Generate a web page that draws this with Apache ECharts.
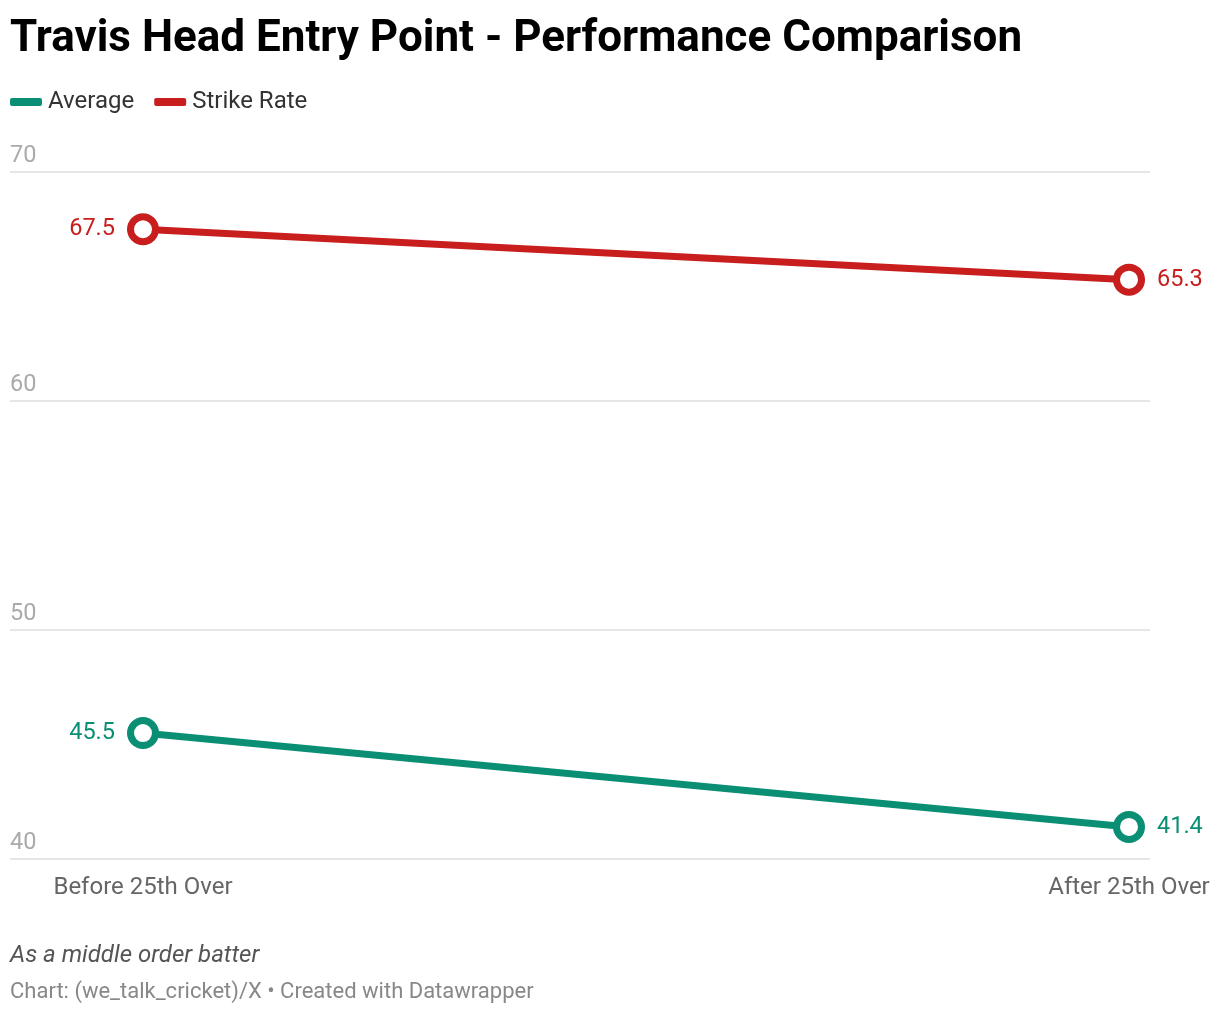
<!DOCTYPE html>
<html><head><meta charset="utf-8">
<script src="https://cdn.jsdelivr.net/npm/echarts@6/dist/echarts.min.js"></script>
<style>html,body{margin:0;padding:0;background:#fff}#c{width:1220px;height:1014px}</style>
</head><body><div id="c"></div>
<script>
const categories = ["Before 25th Over", "After 25th Over"];
const average = [45.5, 41.4];
const strikeRate = [67.5, 65.3];
const yTicks = [40, 50, 60, 70];

const GREEN = '#0a8f75', RED = '#c81e1e';
const chart = echarts.init(document.getElementById('c'));

function mkData(vals) {
  return vals.map((v, i) => ({
    value: [i, v],
    label: { position: i === 0 ? 'left' : 'right' }
  }));
}
function mkSeries(name, vals, color) {
  return {
    name, type: 'line', data: mkData(vals),
    lineStyle: { color, width: 7 },
    itemStyle: { color: '#fff', borderColor: color, borderWidth: 7 },
    symbol: 'circle', symbolSize: 25, showSymbol: true,
    label: { show: true, color, fontSize: 23.5, fontFamily: 'Roboto', distance: 12,
      formatter: p => p.value[1].toFixed(1) },
    emphasis: { disabled: true }, animation: false, z: 5
  };
}

chart.setOption({
  animation: false,
  textStyle: { fontFamily: 'Roboto' },
  title: [
    { text: 'Travis Head Entry Point - Performance Comparison', left: 5, top: 13,
      textStyle: { fontSize: 44, fontWeight: 'bold', color: '#000', fontFamily: 'Roboto' } },
    { text: 'As a middle order batter', left: 5, top: 939,
      textStyle: { fontSize: 24, fontStyle: 'italic', fontWeight: 'normal', color: '#555', fontFamily: 'Roboto' } },
    { text: 'Chart: (we_talk_cricket)/X • Created with Datawrapper', left: 5, top: 976,
      textStyle: { fontSize: 22, fontWeight: 'normal', color: '#888', fontFamily: 'Roboto' } }
  ],
  legend: {
    left: 5, top: 85, itemWidth: 32, itemHeight: 8, itemGap: 20, icon: 'roundRect',
    textStyle: { fontSize: 24, color: '#333', fontFamily: 'Roboto', padding: [0, 0, 0, 1] },
    data: [
      { name: 'Average', itemStyle: { color: GREEN, borderWidth: 0 } },
      { name: 'Strike Rate', itemStyle: { color: RED, borderWidth: 0 } }
    ]
  },
  grid: { left: 10, right: 70, top: 172, bottom: 155, containLabel: false },
  xAxis: {
    type: 'value', min: -133 / 986, max: 1 + 21 / 986,
    axisLine: { show: false }, axisTick: { show: false }, splitLine: { show: false },
    axisLabel: { customValues: [0, 1], fontSize: 24, color: '#666', margin: 17,
      fontFamily: 'Roboto', formatter: v => categories[Math.round(v)] }
  },
  yAxis: {
    type: 'value', min: 40, max: 70, interval: 10,
    axisLine: { show: false }, axisTick: { show: false },
    splitLine: { lineStyle: { color: '#dedede', width: 1.5 } },
    axisLabel: { inside: true, verticalAlign: 'bottom', align: 'left', margin: 0,
      padding: [0, 0, 4, 0], fontSize: 23.5, color: '#aaa', fontFamily: 'Roboto',
      formatter: v => yTicks.includes(v) ? String(v) : '' }
  },
  series: [
    mkSeries('Average', average, GREEN),
    mkSeries('Strike Rate', strikeRate, RED)
  ]
});
</script></body></html>
